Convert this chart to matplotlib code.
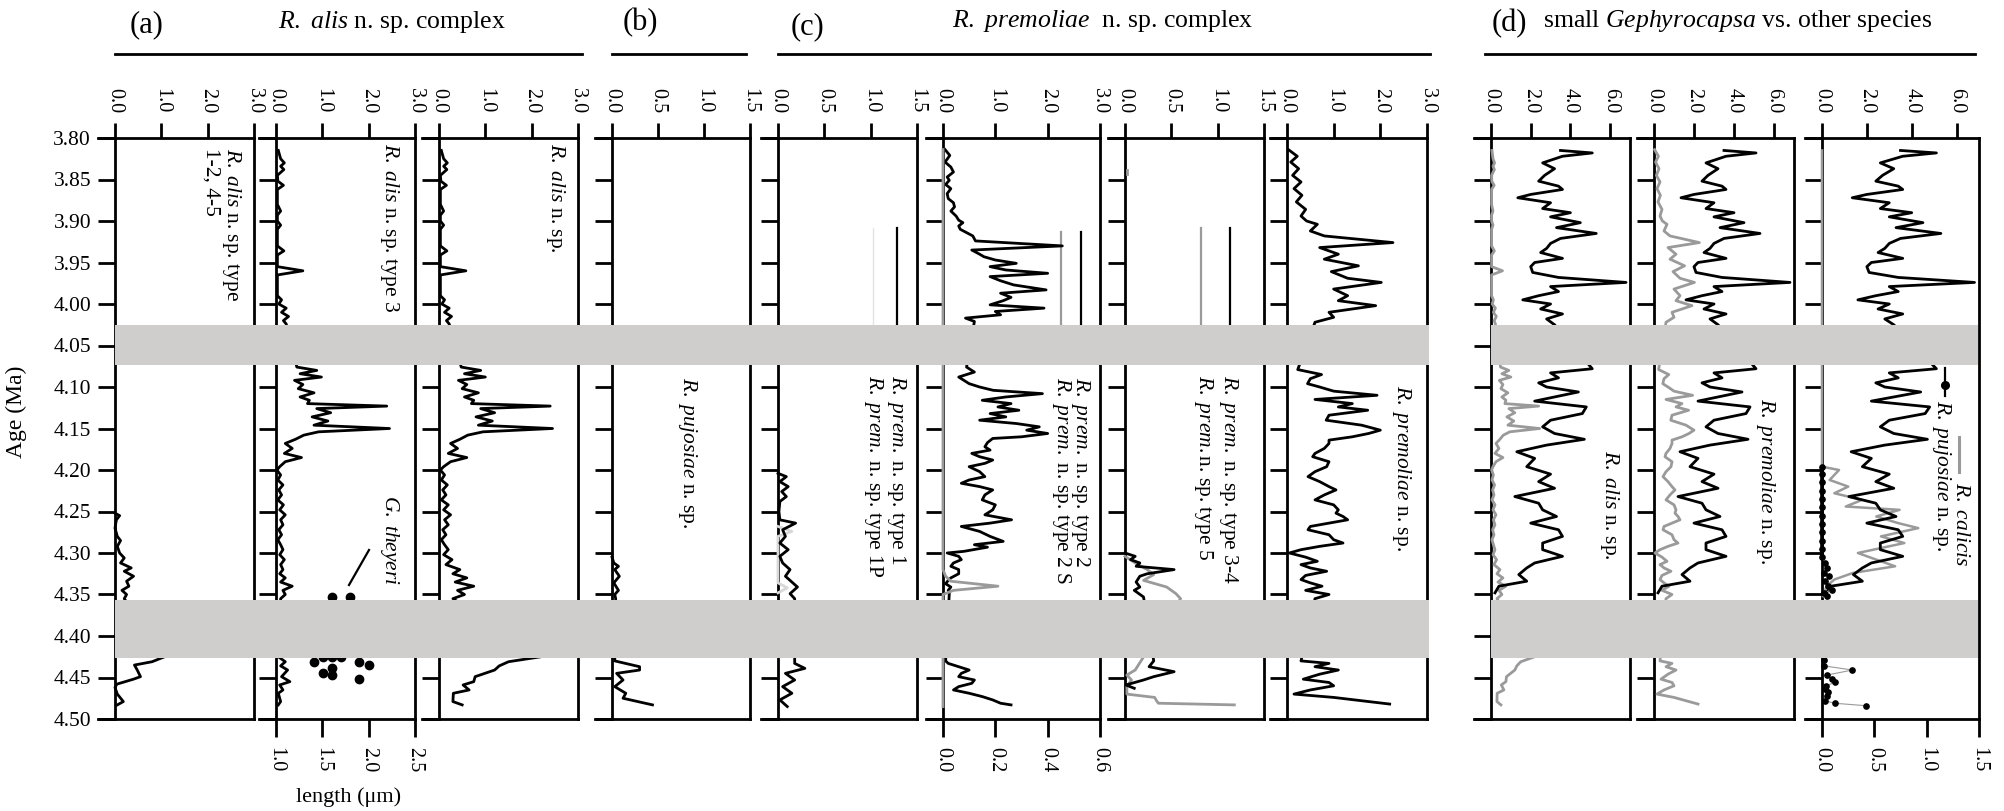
import numpy as np
import matplotlib
matplotlib.use('Agg')
import matplotlib.pyplot as plt
from matplotlib.lines import Line2D
from matplotlib.patches import Rectangle
from matplotlib.transforms import blended_transform_factory

plt.rcParams['font.family'] = ['Liberation Serif', 'DejaVu Serif']
plt.rcParams['mathtext.fontset'] = 'custom'
plt.rcParams['mathtext.rm'] = 'Liberation Serif'
plt.rcParams['mathtext.it'] = 'Liberation Serif:italic'

# ---------------- data (age in Ma, abundance) ----------------
gaps = [(4.025, 4.073), (4.357, 4.426)]

alis_ages = [3.815, 3.825, 3.830, 3.834, 3.838, 3.845, 3.852, 3.857, 3.862, 3.880, 3.888, 3.893,
             3.900, 3.905, 3.910, 3.930, 3.936, 3.941, 3.955, 3.960, 3.965, 3.990, 3.995, 4.000,
             4.005, 4.010, 4.015, 4.020, 4.024,
             4.076, 4.080, 4.084, 4.088, 4.092, 4.097, 4.102, 4.107, 4.112, 4.116, 4.120, 4.123,
             4.126, 4.131, 4.136, 4.141, 4.146, 4.150, 4.154, 4.158, 4.163, 4.168, 4.174, 4.180,
             4.185, 4.190, 4.196, 4.200, 4.206, 4.212, 4.218, 4.224, 4.230, 4.236, 4.242, 4.248,
             4.254, 4.260, 4.266, 4.272, 4.278, 4.284, 4.290, 4.296, 4.302, 4.308, 4.314, 4.320,
             4.325, 4.330, 4.335, 4.340, 4.345, 4.350, 4.355,
             4.425, 4.431, 4.436, 4.441, 4.449, 4.455, 4.459, 4.465, 4.469, 4.479, 4.483]
alis = [0.05, 0.10, 0.18, 0.10, 0.17, 0.03, 0.04, 0.16, 0.03, 0.03, 0.10, 0.03,
        0.03, 0.10, 0.03, 0.03, 0.17, 0.03, 0.03, 0.58, 0.03, 0.03, 0.12, 0.06,
        0.22, 0.12, 0.27, 0.16, 0.22,
        0.48, 0.90, 0.55, 1.00, 0.42, 0.60, 0.50, 0.85, 0.55, 0.75, 0.70, 2.40,
        0.90, 1.20, 0.80, 1.15, 0.85, 2.45, 0.95, 0.62, 0.45, 0.25, 0.40, 0.20,
        0.60, 0.25, 0.10, 0.03, 0.12, 0.05, 0.18, 0.08, 0.15, 0.05, 0.20, 0.10,
        0.25, 0.12, 0.20, 0.08, 0.15, 0.05, 0.12, 0.20, 0.10, 0.28, 0.15, 0.45,
        0.30, 0.60, 0.35, 0.75, 0.40, 0.55, 0.30,
        2.20, 1.50, 1.30, 1.20, 0.78, 0.75, 0.52, 0.65, 0.31, 0.30, 0.50]

alis3 = [0.05, 0.10, 0.18, 0.10, 0.17, 0.03, 0.04, 0.16, 0.03, 0.03, 0.10, 0.03,
         0.03, 0.10, 0.03, 0.03, 0.17, 0.03, 0.03, 0.58, 0.03, 0.03, 0.12, 0.06,
         0.22, 0.12, 0.27, 0.16, 0.22,
         0.45, 0.88, 0.52, 0.98, 0.40, 0.58, 0.48, 0.82, 0.52, 0.72, 0.68, 2.39,
         0.88, 1.18, 0.78, 1.12, 0.82, 2.45, 0.92, 0.60, 0.42, 0.20, 0.35, 0.18,
         0.55, 0.20, 0.08, 0.02, 0.10, 0.04, 0.15, 0.06, 0.12, 0.04, 0.16, 0.08,
         0.20, 0.10, 0.15, 0.06, 0.12, 0.04, 0.10, 0.15, 0.08, 0.18, 0.10, 0.15,
         0.08, 0.20, 0.10, 0.35, 0.15, 0.20, 0.10,
         0.05, 0.20, 0.10, 0.25, 0.12, 0.30, 0.08, 0.15, 0.05, 0.10, 0.05]

alis124_ages = [4.252, 4.255, 4.260, 4.270, 4.280, 4.285, 4.292, 4.300, 4.306, 4.312, 4.318,
                4.322, 4.328, 4.334, 4.340, 4.345, 4.350, 4.355,
                4.425, 4.431, 4.435, 4.441, 4.449, 4.452, 4.458, 4.462, 4.470, 4.479, 4.483]
alis124 = [0.0, 0.10, 0.03, 0.0, 0.05, 0.12, 0.05, 0.10, 0.20, 0.12, 0.35,
           0.20, 0.40, 0.25, 0.30, 0.15, 0.25, 0.20,
           1.07, 0.80, 0.42, 0.48, 0.55, 0.40, 0.04, 0.0, 0.05, 0.18, 0.05]

theyeri_age = [4.353, 4.353, 4.425, 4.425, 4.425, 4.431, 4.431, 4.435, 4.438, 4.445, 4.447, 4.452]
theyeri_len = [1.60, 1.80, 1.51, 1.60, 1.70, 1.41, 1.90, 2.00, 1.60, 1.51, 1.60, 1.90]

puj_b_ages = [4.305, 4.312, 4.316, 4.320, 4.328, 4.336, 4.345, 4.350, 4.355,
              4.430, 4.437, 4.441, 4.445, 4.453, 4.461, 4.469, 4.475, 4.483]
puj_b = [0.0, 0.02, 0.07, 0.03, 0.08, 0.02, 0.07, 0.03, 0.04,
         0.03, 0.30, 0.30, 0.05, 0.12, 0.03, 0.15, 0.12, 0.44]

t1_ages = [4.204, 4.208, 4.214, 4.220, 4.226, 4.232, 4.238, 4.250, 4.260, 4.264, 4.272, 4.280,
           4.288, 4.296, 4.304, 4.312, 4.320, 4.328, 4.341, 4.349, 4.355,
           4.433, 4.439, 4.445, 4.453, 4.461, 4.469, 4.477, 4.485]
t1 = [0.0, 0.09, 0.02, 0.11, 0.04, 0.09, 0.02, 0.01, 0.02, 0.19, 0.05, 0.08,
      0.02, 0.11, 0.02, 0.05, 0.13, 0.08, 0.21, 0.13, 0.18,
      0.18, 0.29, 0.08, 0.18, 0.05, 0.15, 0.02, 0.10]
t1p_ages = [4.268, 4.274, 4.280, 4.336, 4.342, 4.348]
t1p = [0.0, 0.15, 0.0, 0.0, 0.10, 0.0]
t1_bar_ages = [3.908, 4.030]
t1_bar = [1.28, 1.28]
t1p_bar = [1.03, 1.03]

t2_ages = [3.814, 3.821, 3.829, 3.835, 3.841, 3.847, 3.851, 3.856, 3.861, 3.867, 3.873, 3.878,
           3.883, 3.888, 3.894, 3.899, 3.902, 3.906, 3.910, 3.914, 3.918, 3.924, 3.930, 3.935,
           3.940, 3.943, 3.947, 3.951, 3.955, 3.959, 3.963, 3.967, 3.972, 3.977, 3.983, 3.987,
           3.992, 3.996, 4.001, 4.005, 4.009, 4.013, 4.017, 4.021,
           4.076, 4.082, 4.088, 4.096, 4.100, 4.104, 4.108, 4.112, 4.116, 4.120, 4.124, 4.128,
           4.132, 4.136, 4.140, 4.144, 4.148, 4.152, 4.156, 4.160, 4.162, 4.167, 4.172, 4.176,
           4.180, 4.184, 4.188, 4.192, 4.196, 4.202, 4.208, 4.212, 4.216, 4.220, 4.224, 4.230,
           4.236, 4.242, 4.248, 4.254, 4.260, 4.264, 4.268, 4.274, 4.280, 4.286, 4.290, 4.293,
           4.298, 4.300, 4.304, 4.308, 4.312, 4.316, 4.320, 4.325, 4.330, 4.333, 4.337, 4.341,
           4.345, 4.349,
           4.430, 4.433, 4.437, 4.441, 4.445, 4.449, 4.453, 4.457, 4.461, 4.465, 4.469, 4.473,
           4.477, 4.481, 4.483]
t2 = [0.04, 0.13, 0.04, 0.15, 0.20, 0.08, 0.12, 0.05, 0.15, 0.08, 0.10, 0.20,
      0.22, 0.15, 0.25, 0.30, 0.38, 0.30, 0.33, 0.45, 0.57, 0.62, 2.28, 0.55,
      0.70, 0.78, 1.00, 1.40, 0.90, 1.20, 2.00, 0.90, 1.10, 1.35, 1.97, 1.10,
      1.30, 1.15, 0.90, 1.93, 1.00, 1.10, 0.43, 0.60,
      0.45, 0.60, 0.30, 0.50, 0.70, 0.96, 1.90, 1.20, 0.75, 1.30, 1.05, 1.45,
      0.90, 1.20, 0.70, 1.40, 1.84, 1.60, 2.00, 1.50, 0.95, 0.85, 0.80, 0.90,
      0.55, 0.70, 0.95, 0.80, 0.50, 0.70, 0.80, 0.50, 0.35, 0.70, 0.95, 0.80,
      0.75, 1.00, 0.95, 0.80, 1.31, 0.90, 0.35, 0.70, 0.90, 1.15, 0.60, 0.85,
      0.40, 0.08, 0.30, 0.35, 0.20, 0.15, 0.30, 0.30, 0.15, 0.10, 0.05, 0.15,
      0.10, 0.12,
      0.05, 0.10, 0.30, 0.50, 0.35, 0.30, 0.60, 0.55, 0.30, 0.20, 0.50, 0.75,
      0.95, 1.10, 1.30]
t2s_ages = [3.814, 4.025, 4.073, 4.320, 4.328, 4.334, 4.340, 4.345, 4.350, 4.426, 4.485]
t2s = [0.0, 0.0, 0.0, 0.0, 0.01, 0.03, 0.21, 0.04, 0.0, 0.0, 0.0]
t2_bar_ages = [3.913, 4.030]
t2_bar = [2.64, 2.64]
t2s_bar = [2.26, 2.26]

t34_ages = [4.300, 4.304, 4.308, 4.312, 4.316, 4.320, 4.325, 4.328, 4.335, 4.341, 4.345, 4.353,
            4.430, 4.437, 4.443, 4.449, 4.453, 4.459, 4.463]
t34 = [0.0, 0.11, 0.06, 0.16, 0.12, 0.53, 0.24, 0.16, 0.12, 0.16, 0.10, 0.20,
       0.31, 0.26, 0.53, 0.31, 0.20, 0.01, 0.10]
t5_ages = [4.304, 4.312, 4.320, 4.326, 4.333, 4.341, 4.349, 4.355,
           4.441, 4.447, 4.453, 4.461, 4.470, 4.474, 4.478, 4.481, 4.483]
t5 = [0.0, 0.11, 0.24, 0.31, 0.20, 0.45, 0.55, 0.60,
      0.11, 0.02, 0.07, 0.02, 0.02, 0.32, 0.34, 0.36, 1.18]
t5_speck_ages = [3.839, 3.843]
t5_speck = [0.02, 0.02]
t34_bar_ages = [3.908, 4.030]
t34_bar = [1.13, 1.13]
t5_bar = [0.82, 0.82]

prem_ages = [3.814, 3.822, 3.829, 3.837, 3.845, 3.853, 3.861, 3.869, 3.877, 3.886, 3.894, 3.900,
             3.904, 3.912, 3.918, 3.926, 3.932, 3.940, 3.946, 3.954, 3.961, 3.969, 3.974, 3.982,
             3.990, 3.996, 4.002, 4.010, 4.016, 4.022,
             4.079, 4.085, 4.090, 4.096, 4.100, 4.105, 4.110, 4.115, 4.120, 4.124, 4.128, 4.134,
             4.140, 4.146, 4.152, 4.156, 4.160, 4.164, 4.168, 4.174, 4.180, 4.184, 4.190, 4.196,
             4.202, 4.208, 4.214, 4.220, 4.224, 4.230, 4.236, 4.242, 4.248, 4.252, 4.256, 4.260,
             4.264, 4.268, 4.272, 4.278, 4.284, 4.288, 4.292, 4.296, 4.300, 4.305, 4.310, 4.314,
             4.318, 4.322, 4.327, 4.332, 4.336, 4.340, 4.345, 4.350, 4.355,
             4.430, 4.433, 4.437, 4.441, 4.446, 4.452, 4.456, 4.460, 4.465, 4.470, 4.474, 4.478,
             4.482]
prem = [0.03, 0.22, 0.08, 0.25, 0.12, 0.30, 0.15, 0.32, 0.20, 0.40, 0.30, 0.42,
        0.65, 0.50, 0.80, 2.27, 0.70, 1.10, 0.80, 1.53, 0.95, 1.30, 2.02, 1.00,
        1.30, 1.10, 1.90, 0.90, 1.00, 0.60,
        0.23, 0.74, 0.50, 0.44, 0.70, 1.00, 1.93, 0.60, 1.40, 1.10, 1.73, 0.90,
        0.84, 1.60, 2.00, 1.75, 1.40, 0.90, 0.90, 0.80, 0.60, 0.55, 0.90, 0.85,
        0.60, 0.45, 0.70, 0.90, 1.05, 0.80, 0.60, 1.00, 1.10, 1.05, 1.20, 1.30,
        0.90, 0.50, 0.45, 0.90, 1.00, 1.20, 0.70, 0.30, 0.05, 0.40, 0.65, 0.30,
        0.50, 0.85, 0.40, 0.30, 0.50, 0.75, 0.40, 0.90, 0.60,
        0.30, 0.90, 0.60, 1.10, 0.70, 0.35, 0.90, 1.00, 0.50, 0.15, 1.00, 1.60,
        2.20]

geph_ages = [3.815, 3.818, 3.822, 3.830, 3.837, 3.845, 3.852, 3.858, 3.862, 3.868, 3.872, 3.878,
             3.885, 3.890, 3.895, 3.902, 3.908, 3.915, 3.921, 3.927, 3.933, 3.938, 3.945, 3.950,
             3.955, 3.962, 3.968, 3.974, 3.979, 3.985, 3.990, 3.995, 4.000, 4.006, 4.012, 4.018,
             4.025,
             4.078, 4.083, 4.089, 4.095, 4.100, 4.106, 4.111, 4.117, 4.124, 4.132, 4.140, 4.148,
             4.156, 4.163, 4.170, 4.178, 4.186, 4.196, 4.205, 4.214, 4.222, 4.232, 4.240, 4.248,
             4.256, 4.264, 4.272, 4.280, 4.288, 4.296, 4.304, 4.312, 4.318, 4.326, 4.334, 4.340,
             4.348]
geph = [3.5, 5.1, 3.6, 2.6, 3.2, 2.7, 2.4, 3.4, 3.6, 2.0, 1.35, 3.0,
        2.6, 4.0, 3.0, 4.5, 3.3, 5.3, 3.5, 3.0, 2.8, 2.5, 3.6, 2.2,
        2.0, 2.1, 3.4, 6.8, 3.0, 3.4, 2.4, 1.6, 3.0, 2.5, 3.6, 2.8,
        3.2,
        5.1, 3.0, 3.4, 2.4, 2.8, 4.4, 3.4, 2.2, 4.8, 4.6, 3.0, 2.6,
        3.2, 4.7, 2.8, 1.3, 2.2, 1.8, 3.0, 2.4, 3.2, 1.2, 2.4, 2.6,
        3.3, 2.0, 3.4, 3.6, 2.6, 2.6, 3.6, 2.2, 1.8, 1.4, 1.8, 0.4,
        0.2]

calicis_ages = [3.815, 4.196, 4.200, 4.212, 4.220, 4.228, 4.236, 4.244, 4.248, 4.256, 4.264,
                4.270, 4.280, 4.288, 4.300, 4.308, 4.316, 4.324, 4.332, 4.340, 4.352]
calicis = [0.0, 0.0, 0.76, 0.34, 1.17, 0.55, 1.79, 1.06, 3.46, 2.42, 3.40,
           4.29, 2.63, 3.67, 1.60, 2.42, 3.26, 1.38, 0.55, 0.20, 0.05]

puj_d_ages = [4.196, 4.205, 4.215, 4.225, 4.235, 4.245, 4.255, 4.265, 4.275, 4.285, 4.295, 4.305,
              4.312, 4.318, 4.324, 4.328, 4.334, 4.340, 4.344, 4.348, 4.352,
              4.429, 4.436, 4.441, 4.447, 4.452, 4.456, 4.460, 4.464, 4.468, 4.472, 4.478, 4.481,
              4.484]
puj_d = [0.0, 0.0, 0.0, 0.0, 0.0, 0.0, 0.0, 0.0, 0.0, 0.0, 0.0, 0.0,
         0.03, 0.05, 0.02, 0.07, 0.03, 0.06, 0.10, 0.02, 0.05,
         0.02, 0.02, 0.29, 0.05, 0.10, 0.12, 0.04, 0.03, 0.06, 0.05, 0.03, 0.12,
         0.42]

age_ticks = [3.80, 3.85, 3.90, 3.95, 4.00, 4.05, 4.10, 4.15, 4.20, 4.25, 4.30, 4.35, 4.40, 4.45, 4.50]

# ---------------- layout helpers (pixel based) ----------------
W, H = 2004, 811
TOP, BOT = 138, 719
PAD = 17
LW = 2.0
BLACK, GRAY, BAND = '#000000', '#9a9a9a', '#d0cdcd'

fig = plt.figure(figsize=(W / 100, H / 100), dpi=100)


def fx(x):
    return x / W


def fy(y):
    return 1 - y / H


def panel(spine, right, xmax, ticks, fmt='%.1f', age_labels=False):
    left = spine - PAD
    ax = fig.add_axes([fx(left), fy(BOT), (right - left) / W, (BOT - TOP) / H])
    ax.set_xlim(-PAD * xmax / (right - spine), xmax)
    ax.set_ylim(4.5, 3.8)
    ax.spines['left'].set_position(('data', 0))
    for s in ax.spines.values():
        s.set_linewidth(LW)
    ax.set_yticks(age_ticks)
    if age_labels:
        ax.set_yticklabels(['%.2f' % a for a in age_ticks], fontsize=15.5)
    else:
        ax.set_yticklabels([])
    ax.tick_params(axis='y', direction='out', length=12.2, width=LW, pad=5)
    ax.patch.set_alpha(0)
    ax._xinfo = (spine, right, ticks, fmt)
    return ax


def top_ticks(ax):
    spine, right, ticks, fmt = ax._xinfo
    ax.xaxis.tick_top()
    ax.set_xticks(ticks)
    ax.set_xticklabels([fmt % t for t in ticks], rotation=-90, fontsize=14.5)
    ax.tick_params(axis='x', direction='out', length=10.8, width=LW, pad=7)


def bottom_twin(ax, lo, hi, ticks, fmt='%.1f'):
    spine, right, _, _ = ax._xinfo
    tw = ax.twiny()
    tw.set_xlim(lo - PAD * (hi - lo) / (right - spine), hi)
    tw.xaxis.tick_bottom()
    tw.set_xticks(ticks)
    tw.set_xticklabels([fmt % t for t in ticks], rotation=-90, fontsize=14.5)
    tw.tick_params(axis='x', direction='out', length=13, width=LW, pad=7)
    for s in tw.spines.values():
        s.set_visible(False)
    top_ticks(ax)
    return tw


ax_a1 = panel(115, 254, 3.0, [0, 1, 2, 3], age_labels=True)
ax_a2 = panel(276, 415, 3.0, [0, 1, 2, 3])
ax_a3 = panel(439, 578, 3.0, [0, 1, 2, 3])
ax_b = panel(612, 750, 1.5, [0, 0.5, 1.0, 1.5])
ax_c1 = panel(778, 917, 1.5, [0, 0.5, 1.0, 1.5])
ax_c2 = panel(943, 1100, 3.0, [0, 1, 2, 3])
ax_c3 = panel(1125, 1264, 1.5, [0, 0.5, 1.0, 1.5])
ax_c4 = panel(1287, 1427, 3.0, [0, 1, 2, 3])
ax_d1 = panel(1491, 1630, 7.0, [0, 2, 4, 6])
ax_d2 = panel(1654, 1794, 7.0, [0, 2, 4, 6])
ax_d3 = panel(1822, 1979, 7.0, [0, 2, 4, 6])
for a in [ax_a1, ax_a3, ax_b, ax_c1, ax_c3, ax_c4, ax_d1, ax_d2]:
    top_ticks(a)
tw_a2 = bottom_twin(ax_a2, 1.0, 2.5, [1.0, 1.5, 2.0, 2.5])
tw_c2 = bottom_twin(ax_c2, 0.0, 0.6, [0.0, 0.2, 0.4, 0.6])
tw_d3 = bottom_twin(ax_d3, 0.0, 1.5, [0.0, 0.5, 1.0, 1.5])

# ---------------- series ----------------
DL = 2.0
ax_a1.plot(alis124, alis124_ages, color=BLACK, lw=DL, zorder=4)
ax_a2.plot(alis3, alis_ages, color=BLACK, lw=DL, zorder=4)
tw_a2.plot(theyeri_len, theyeri_age, 'o', color=BLACK, ms=6, zorder=4)
ax_a3.plot(alis, alis_ages, color=BLACK, lw=DL, zorder=4)
ax_b.plot(puj_b, puj_b_ages, color=BLACK, lw=DL, zorder=4)

ax_c1.plot(t1p, t1p_ages, color='#d8d8d8', lw=DL, zorder=3)
ax_c1.plot(t1, t1_ages, color=BLACK, lw=DL, zorder=4)
ax_c1.plot(t1p_bar, t1_bar_ages, color='#e4e4e4', lw=1.0, zorder=3)
ax_c1.plot(t1_bar, t1_bar_ages, color=BLACK, lw=1.6, zorder=4)

tw_c2.plot(t2s, t2s_ages, color=GRAY, lw=DL, zorder=3)
ax_c2.plot(t2, t2_ages, color=BLACK, lw=DL, zorder=4)
ax_c2.plot(t2s_bar, t2_bar_ages, color=GRAY, lw=1.6, zorder=3)
ax_c2.plot(t2_bar, t2_bar_ages, color=BLACK, lw=1.6, zorder=4)

ax_c3.plot(t5, t5_ages, color=GRAY, lw=DL, zorder=3)
ax_c3.plot(t5_speck, t5_speck_ages, color=GRAY, lw=DL, zorder=3)
ax_c3.plot(t34, t34_ages, color=BLACK, lw=DL, zorder=4)
ax_c3.plot(t5_bar, t34_bar_ages, color=GRAY, lw=1.6, zorder=3)
ax_c3.plot(t34_bar, t34_bar_ages, color=BLACK, lw=1.6, zorder=4)

ax_c4.plot(prem, prem_ages, color=BLACK, lw=DL, zorder=4)

ax_d1.plot(alis, alis_ages, color=GRAY, lw=DL, zorder=3)
ax_d1.plot(geph, geph_ages, color=BLACK, lw=DL, zorder=4)
ax_d2.plot(prem, prem_ages, color=GRAY, lw=DL, zorder=3)
ax_d2.plot(geph, geph_ages, color=BLACK, lw=DL, zorder=4)
ax_d3.plot(calicis, calicis_ages, color=GRAY, lw=1.8, zorder=3)
ax_d3.plot(geph, geph_ages, color=BLACK, lw=DL, zorder=4)
tw_d3.plot(puj_d, puj_d_ages, color='#9a9a9a', lw=0.8, zorder=3)
tw_d3.plot(puj_d[:12], puj_d_ages[:12], color=BLACK, lw=2.6, zorder=4)
tw_d3.plot(puj_d, puj_d_ages, 'o', color=BLACK, ms=3.8, zorder=4)

# ---------------- hiatus bands (on top of everything) ----------------
btr = blended_transform_factory(fig.transFigure, ax_a1.transData)
for g0, g1 in gaps:
    for x0, x1 in [(115, 1429), (1491, 1978)]:
        fig.add_artist(Rectangle((fx(x0), g0), fx(x1) - fx(x0), g1 - g0, transform=btr,
                                 facecolor=BAND, edgecolor='none', zorder=10))

# ---------------- texts ----------------
def ftext(x, y, s, size=15.5, rot=-90, ha='center', va='top', **kw):
    fig.text(fx(x), fy(y), s, fontsize=size, rotation=rot, ha=ha, va=va, **kw)


ftext(222, 148, '$\\mathit{R.\\ alis}$ n. sp. type\n1-2, 4-5', multialignment='left', linespacing=1.0)
ftext(390, 143, '$\\mathit{R.\\ alis}$ n. sp. type 3')
ftext(555, 143, '$\\mathit{R.\\ alis}$ n. sp.')
ftext(390, 495, '$\\mathit{G.\\ theyeri}$')
ftext(688, 377, '$\\mathit{R.\\ pujosiae}$ n. sp.')
ftext(885, 375, '$\\mathit{R.\\ prem.}$ n. sp. type 1\n$\\mathit{R.\\ prem.}$ n. sp. type 1P',
      multialignment='left', linespacing=1.0)
ftext(1071, 377, '$\\mathit{R.\\ prem.}$ n. sp. type 2\n$\\mathit{R.\\ prem.}$ n. sp. type 2 S',
      multialignment='left', linespacing=0.8)
ftext(1216, 375, '$\\mathit{R.\\ prem.}$ n. sp. type 3-4\n$\\mathit{R.\\ prem.}$n. sp. type 5',
      multialignment='left', linespacing=1.1)
ftext(1402, 385, '$\\mathit{R.\\ premoliae}$ n. sp.')
ftext(1610, 450, '$\\mathit{R.\\ alis}$ n. sp.')
ftext(1765, 398, '$\\mathit{R.\\ premoliae}$ n. sp.')
ftext(1961, 482, '$\\mathit{R.\\ calicis}$')
ftext(1942, 400, '$\\mathit{R.\\ pujosiae}$ n. sp.')

# d3 legend handles
fig.add_artist(Line2D([fx(1959), fx(1959)], [fy(437), fy(472)], color=GRAY, lw=2.2))
fig.add_artist(Line2D([fx(1945), fx(1945)], [fy(368), fy(396)], color=BLACK, lw=1.6))
fig.add_artist(Line2D([fx(1945)], [fy(385)], marker='o', color=BLACK, ms=5.5))

# G. theyeri leader
fig.add_artist(Line2D([fx(369), fx(349)], [fy(550), fy(585)], color=BLACK, lw=1.6))

ftext(16, 412, 'Age (Ma)', size=17, rot=90, va='center')
ftext(349, 797, 'length (μm)', size=16, rot=0, va='center')

# headers
ftext(147, 25, '(a)', size=22, rot=0, va='center')
ftext(392, 22, '$\\mathit{R.\\ alis}$ n. sp. complex', size=18.5, rot=0, va='center')
ftext(640, 23, '(b)', size=22, rot=0, va='center')
ftext(808, 27, '(c)', size=22, rot=0, va='center')
ftext(1103, 21, '$\\mathit{R.\\ premoliae}$  n. sp. complex', size=18.5, rot=0, va='center')
ftext(1492, 24, '(d)', size=22, rot=0, ha='left', va='center')
ftext(1543, 21, 'small $\\mathit{Gephyrocapsa}$ vs. other species', size=18.5, rot=0, ha='left',
      va='center')
for x0, x1 in [(115, 582), (612, 746), (778, 1430), (1485, 1975)]:
    fig.add_artist(Line2D([fx(x0), fx(x1)], [fy(54), fy(54)], color=BLACK, lw=LW))

fig.savefig('out.png', dpi=100)
